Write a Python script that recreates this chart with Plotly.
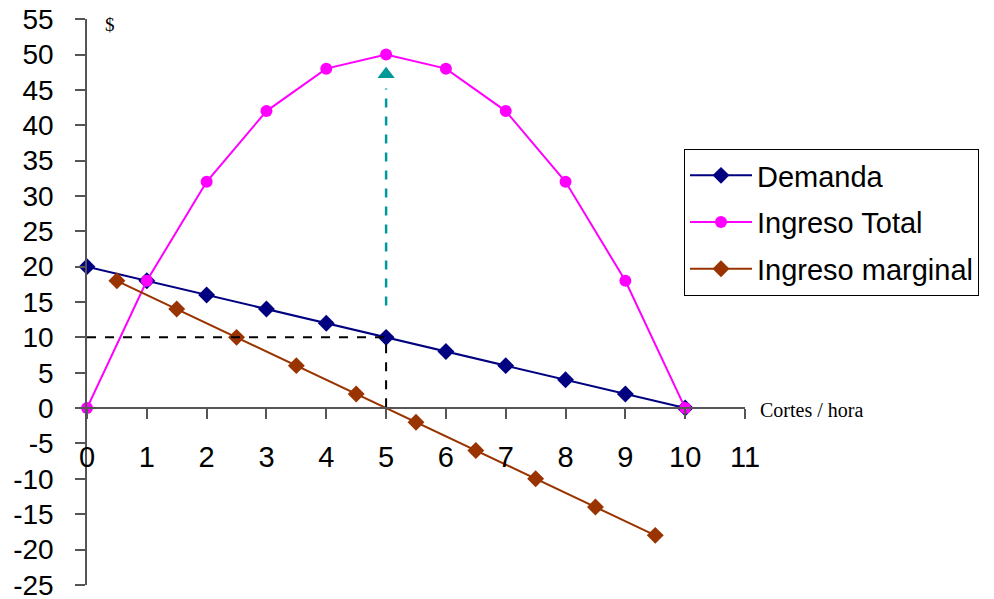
import plotly.graph_objects as go

cortes = [0, 1, 2, 3, 4, 5, 6, 7, 8, 9, 10]
demanda = [20, 18, 16, 14, 12, 10, 8, 6, 4, 2, 0]
ingreso_total = [0, 18, 32, 42, 48, 50, 48, 42, 32, 18, 0]
cortes_mid = [0.5, 1.5, 2.5, 3.5, 4.5, 5.5, 6.5, 7.5, 8.5, 9.5]
ingreso_marginal = [18, 14, 10, 6, 2, -2, -6, -10, -14, -18]

x_tick_vals = list(range(0, 12))
x_tick_text = [str(v) for v in x_tick_vals]
y_tick_vals = list(range(-25, 60, 5))
y_tick_text = [str(v) for v in y_tick_vals]

q_opt = 5
p_opt = 10
arrow_start = 14.5
arrow_tip = 47.2

fig = go.Figure()

fig.add_trace(go.Scatter(x=cortes, y=demanda, name="Demanda", mode="lines+markers",
                         line=dict(color="#000080", width=2),
                         marker=dict(symbol="diamond", size=13, color="#000080"),
                         cliponaxis=False, legendgroup="a"))
fig.add_trace(go.Scatter(x=cortes, y=ingreso_total, name="Ingreso Total", mode="lines+markers",
                         line=dict(color="#FF00FF", width=2),
                         marker=dict(symbol="circle", size=12, color="#FF00FF"),
                         cliponaxis=False, legendgroup="b"))
fig.add_trace(go.Scatter(x=cortes_mid, y=ingreso_marginal, name="Ingreso marginal", mode="lines+markers",
                         line=dict(color="#993300", width=2),
                         marker=dict(symbol="diamond", size=13, color="#993300"),
                         cliponaxis=False, legendgroup="c"))

# dashed guide lines
fig.add_trace(go.Scatter(x=[0, q_opt, q_opt], y=[p_opt, p_opt, -1.3], mode="lines",
                         line=dict(color="black", width=2, dash="dash"),
                         showlegend=False, hoverinfo="skip", cliponaxis=False))
fig.add_trace(go.Scatter(x=[q_opt, q_opt], y=[arrow_start, arrow_tip - 2.0], mode="lines",
                         line=dict(color="#009999", width=2.5, dash="dash"),
                         showlegend=False, hoverinfo="skip"))
fig.add_trace(go.Scatter(x=[q_opt], y=[arrow_tip], mode="markers",
                         marker=dict(symbol="triangle-up", size=15, color="#009999"),
                         showlegend=False, hoverinfo="skip"))

fig.update_layout(
    width=994, height=599,
    margin=dict(l=87, r=249, t=19, b=14),
    paper_bgcolor="white", plot_bgcolor="white",
    font=dict(family="Liberation Sans, Arial, sans-serif", color="black"),
    showlegend=True,
    legend=dict(x=(684-87)/658, y=(585-149)/566, xanchor="left", yanchor="top",
                bordercolor="black", borderwidth=1, bgcolor="white",
                font=dict(size=29), tracegroupgap=6, itemwidth=62,
                traceorder="grouped"),
    xaxis=dict(range=[0, 11], tickvals=x_tick_vals, ticktext=x_tick_text,
               anchor="free", position=25/80, automargin=False,
               showline=True, linecolor="#555", linewidth=1.5,
               ticks="outside", ticklen=10, tickcolor="#555", tickwidth=1.5,
               ticklabelstandoff=13, ticklabeloverflow="allow",
               showgrid=False, zeroline=False, tickfont=dict(size=29)),
    yaxis=dict(range=[-25.02, 55.02], tickvals=y_tick_vals, ticktext=y_tick_text,
               automargin=False, ticklabeloverflow="allow",
               showline=True, linecolor="#555", linewidth=1.5,
               ticks="outside", ticklen=10, tickcolor="#555", tickwidth=1.5,
               ticklabelstandoff=16,
               showgrid=False, zeroline=False, tickfont=dict(size=28)),
    annotations=[
        dict(text="$", xref="paper", yref="paper", x=(110-87)/658, y=(585-25)/566,
             showarrow=False, xanchor="center", yanchor="middle",
             font=dict(family="Liberation Serif, Times New Roman, serif", size=19)),
        dict(text="Cortes / hora", xref="paper", yref="paper", x=(758-87)/658, y=(585-410)/566,
             showarrow=False, xanchor="left", yanchor="middle",
             font=dict(family="Liberation Serif, Times New Roman, serif", size=20)),
    ],
)

fig.write_html("out.html")
